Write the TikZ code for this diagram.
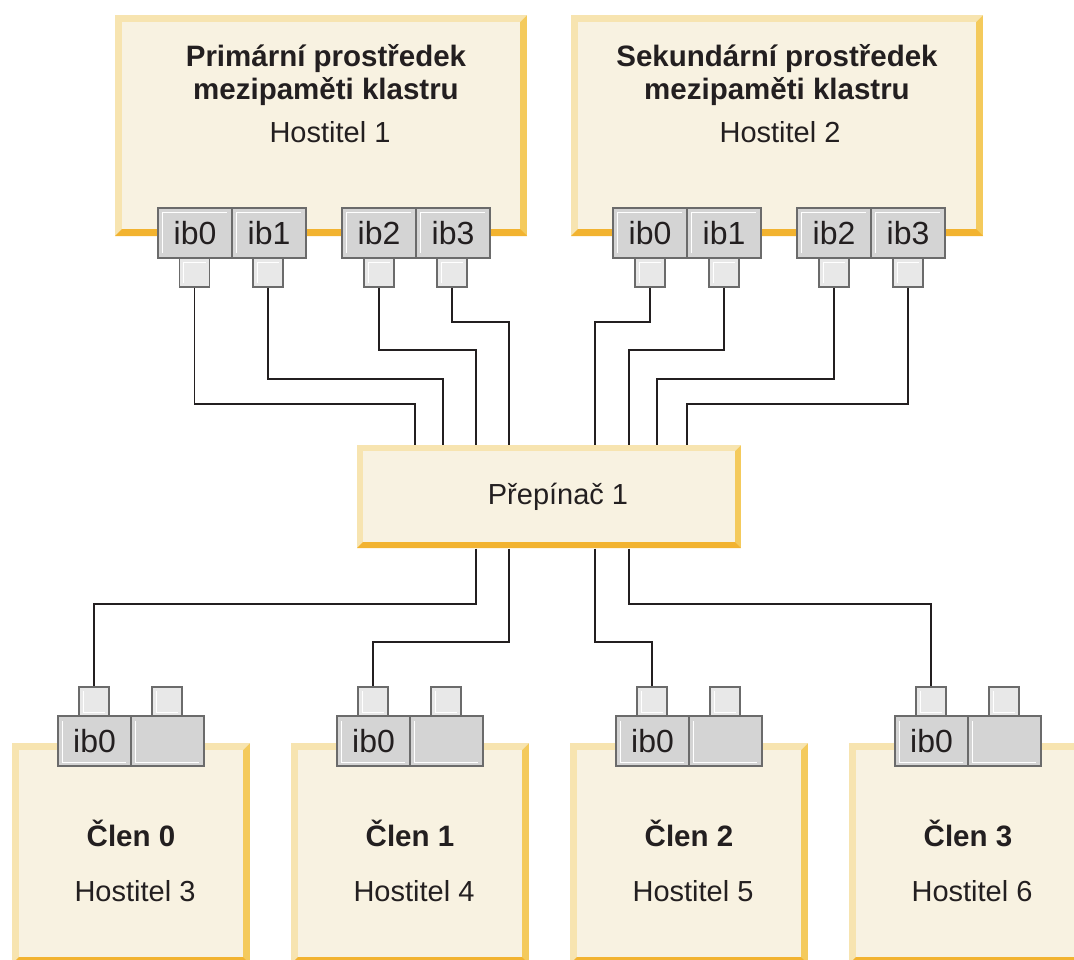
\documentclass[tikz,border=0pt]{standalone}
\usepackage{fontspec}
\setmainfont{Liberation Sans}
\usetikzlibrary{calc}
\definecolor{boxfill}{HTML}{F8F2E1}
\definecolor{bevL}{HTML}{F7E4B0}
\definecolor{bevR}{HTML}{F4CA5C}
\definecolor{bevB}{HTML}{F2B330}
\definecolor{portfill}{HTML}{D4D4D4}
\definecolor{portdraw}{HTML}{6B6B6B}
\definecolor{sqfill}{HTML}{E8E8E8}
\definecolor{wirec}{HTML}{231F20}
\definecolor{txtc}{HTML}{231F20}
\newcommand{\bevbox}[5]{%
 \fill[bevR] (#1,#2) rectangle (#3,#4);
 \fill[bevL] (#1,#2) -- (#3,#2) -- (#3-#5,#2+#5) -- (#1+#5,#2+#5) -- (#1+#5,#4-#5) -- (#1,#4) -- cycle;
 \fill[bevB] (#1,#4) -- (#3,#4) -- (#3-#5,#4-#5) -- (#1+#5,#4-#5) -- cycle;
 \fill[boxfill] (#1+#5,#2+#5) rectangle (#3-#5,#4-#5);}
\tikzset{
 porttop/.style={draw=portdraw, line width=1.6pt, fill=portfill, minimum width=74pt, minimum height=50pt, inner sep=0pt, text=txtc, font=\fontsize{32}{32}\selectfont,
   path picture={\draw[white, line width=0.9pt] ([shift={(4pt,5pt)}]path picture bounding box.south west) -- ([shift={(4pt,-4pt)}]path picture bounding box.north west) -- ([shift={(-5pt,-4pt)}]path picture bounding box.north east);}},
 portbot/.style={draw=portdraw, line width=1.6pt, fill=portfill, minimum width=73pt, minimum height=50pt, inner sep=0pt, text=txtc, font=\fontsize{32}{32}\selectfont,
   path picture={\draw[white, line width=0.9pt] ([shift={(4pt,-5pt)}]path picture bounding box.north west) -- ([shift={(4pt,4pt)}]path picture bounding box.south west) -- ([shift={(-5pt,4pt)}]path picture bounding box.south east);}},
 sqtop/.style={draw=portdraw, line width=1.6pt, fill=sqfill, minimum width=30pt, minimum height=29pt, inner sep=0pt,
   path picture={\draw[white, line width=0.9pt] ([shift={(4pt,4pt)}]path picture bounding box.south west) -- ([shift={(4pt,-4pt)}]path picture bounding box.north west) -- ([shift={(-4pt,-4pt)}]path picture bounding box.north east);}},
 sqbot/.style={draw=portdraw, line width=1.6pt, fill=sqfill, minimum width=30pt, minimum height=29pt, inner sep=0pt,
   path picture={\draw[white, line width=0.9pt] ([shift={(4pt,-4pt)}]path picture bounding box.north west) -- ([shift={(4pt,4pt)}]path picture bounding box.south west) -- ([shift={(-4pt,4pt)}]path picture bounding box.south east);}},
 wire/.style={draw=wirec, line width=1.5pt},
 titletxt/.style={text=txtc, align=center, font=\fontsize{29.5}{33.5}\selectfont\bfseries, inner sep=0pt},
 hosttxt/.style={text=txtc, font=\fontsize{29}{29}\selectfont, inner sep=0pt},
}
\begin{document}
\begin{tikzpicture}[x=1pt,y=-1pt]
\useasboundingbox (0,0) rectangle (1074,959);
\clip (0,0) rectangle (1074,959);
% top boxes
\bevbox{115}{15}{527}{236}{7}
\bevbox{571}{15}{983}{236}{7}
\node[titletxt] (h1t) at (326,75) {Primární prostředek\\mezipaměti klastru};
\node[hosttxt] (h1h) at (330,132) {Hostitel 1};
\node[titletxt] (h2t) at (777,75) {Sekundární prostředek\\mezipaměti klastru};
\node[hosttxt] (h2h) at (780,132) {Hostitel 2};
% switch
\bevbox{357}{445}{741}{548}{6}
\node[hosttxt, minimum width=384pt, minimum height=103pt] (sw) at (549,497) {};
\node[hosttxt] (swt) at (558,497) {Přepínač 1};
% member boxes
\foreach \i/\h in {0/3,1/4,2/5,3/6}{
  \pgfmathsetmacro{\xa}{12+279*\i}
  \pgfmathsetmacro{\xb}{250+279*\i}
  \bevbox{\xa}{743}{\xb}{964}{7}
  \pgfmathsetmacro{\xc}{131+279*\i}
  \pgfmathsetmacro{\xd}{135+279*\i}
  \node[titletxt] (m\i t) at (\xc,833) {Člen \i};
  \node[hosttxt] (m\i h) at (\xd,891) {Hostitel \h};
}
% top ports
\node[porttop] (a0) at (195,233) {ib0};
\node[porttop] (a1) at (269,233) {ib1};
\node[porttop] (a2) at (379,233) {ib2};
\node[porttop] (a3) at (453,233) {ib3};
\node[porttop] (b0) at (650,233) {ib0};
\node[porttop] (b1) at (724,233) {ib1};
\node[porttop] (b2) at (834,233) {ib2};
\node[porttop] (b3) at (908,233) {ib3};
\foreach \p/\x in {a0/194.5,a1/268,a2/379,a3/452,b0/650,b1/724,b2/834,b3/908}{
  \node[sqtop] (s\p) at (\x,272.5) {};
}
% member ports
\foreach \i in {0,1,2,3}{
  \pgfmathsetmacro{\xa}{94.5+279*\i}
  \pgfmathsetmacro{\xb}{167.5+279*\i}
  \node[portbot] (m\i p0) at (\xa,741) {ib0};
  \node[portbot] (m\i p1) at (\xb,741) {};
  \pgfmathsetmacro{\xs}{94+279*\i}
  \pgfmathsetmacro{\xt}{167+279*\i}
  \node[sqbot] (m\i s0) at (\xs,701.5) {};
  \node[sqbot] (m\i s1) at (\xt,701.5) {};
}
% wires top
\draw[wire] (sa0.south) |- (415,404) -- (415,404 |- sw.north);
\draw[wire] (sa1.south) |- (443,379) -- (443,379 |- sw.north);
\draw[wire] (sa2.south) |- (476,350) -- (476,350 |- sw.north);
\draw[wire] (sa3.south) |- (509,322) -- (509,322 |- sw.north);
\draw[wire] (sb0.south) |- (595,322) -- (595,322 |- sw.north);
\draw[wire] (sb1.south) |- (629,350) -- (629,350 |- sw.north);
\draw[wire] (sb2.south) |- (657,379) -- (657,379 |- sw.north);
\draw[wire] (sb3.south) |- (687,404) -- (687,404 |- sw.north);
% wires bottom
\draw[wire] (476,0 |- sw.south) |- (m0s0.north |- 0,604) -- (m0s0.north);
\draw[wire] (509,0 |- sw.south) |- (m1s0.north |- 0,642) -- (m1s0.north);
\draw[wire] (595,0 |- sw.south) |- (m2s0.north |- 0,642) -- (m2s0.north);
\draw[wire] (629,0 |- sw.south) |- (m3s0.north |- 0,604) -- (m3s0.north);
\end{tikzpicture}
\end{document}
